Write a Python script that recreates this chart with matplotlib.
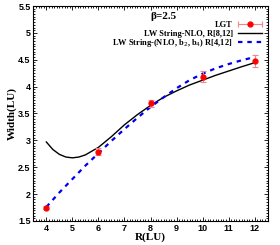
import numpy as np
import matplotlib
matplotlib.use("Agg")
import matplotlib.pyplot as plt
from matplotlib.lines import Line2D
from matplotlib.legend_handler import HandlerLine2D, HandlerTuple
from matplotlib.ticker import MultipleLocator

# lattice data
r_lgt = [4, 6, 8, 10, 12]
w_lgt = [1.75, 2.79, 3.69, 4.185, 4.48]
w_err = [0.03, 0.06, 0.06, 0.10, 0.115]

# LW string NLO fit, R in [8,12]
r_nlo = [4.0, 4.25, 4.5, 4.75, 5.0, 5.25, 5.5, 6.0, 6.5, 7.0, 7.5, 8.0,
         8.5, 9.0, 9.5, 10.0, 10.5, 11.0, 11.5, 12.0]
w_nlo = [2.97, 2.83, 2.74, 2.69, 2.675, 2.69, 2.73, 2.87, 3.07, 3.29, 3.48, 3.65,
         3.80, 3.92, 4.03, 4.12, 4.21, 4.29, 4.37, 4.445]

# LW string (NLO, b2, b4) fit, R in [4,12]
r_b = [4.0, 4.5, 5.0, 5.5, 6.0, 6.5, 7.0, 7.5, 8.0, 8.5, 9.0, 9.5, 10.0,
       10.5, 11.0, 11.5, 12.0]
w_b = [1.76, 2.03, 2.28, 2.53, 2.76, 2.99, 3.21, 3.42, 3.62, 3.80, 3.97, 4.12, 4.24,
       4.34, 4.42, 4.49, 4.55]

labels = ["LGT", "LW String-NLO, R[8,12]", "LW String-(NLO, b$_2$, b$_4$) R[4,12]"]

serif = "Liberation Serif"
sans = "Liberation Sans"
pink = "#f4868a"
blue = "#0000ee"
dash = (0, (2.0, 2.2))

fig = plt.figure(figsize=(2.8, 2.45), dpi=100)
ax = fig.add_axes([0.119, 0.098, 0.837, 0.8775])

ax.plot(r_nlo, w_nlo, color="black", lw=1.0)
ax.plot(r_b, w_b, color=blue, lw=1.6, ls=dash)
ax.errorbar(r_lgt, w_lgt, yerr=w_err, fmt="none", ecolor=pink, elinewidth=0.8,
            capsize=2.5, capthick=0.8, zorder=4)
ax.plot(r_lgt, w_lgt, "o", color="red", ms=3.5, zorder=5)

ax.set_xlim(3.5, 12.5)
ax.set_ylim(1.5, 5.5)
ax.xaxis.set_major_locator(MultipleLocator(1))
ax.xaxis.set_minor_locator(MultipleLocator(0.1))
ax.yaxis.set_minor_locator(MultipleLocator(0.05))
ax.set_yticks([1.5, 2, 2.5, 3, 3.5, 4, 4.5, 5, 5.5])
ax.set_yticklabels(["1.5", "2", "2.5", "3", "3.5", "4", "4.5", "5", "5.5"])
ax.tick_params(which="both", direction="in", top=True, right=True, width=0.6)
ax.tick_params(which="major", length=3, labelsize=6.5, pad=2)
ax.tick_params(which="minor", length=1.5)
for lab in ax.get_xticklabels() + ax.get_yticklabels():
    lab.set_family(sans)
    lab.set_fontweight("bold")
for s in ax.spines.values():
    s.set_linewidth(0.8)

ax.set_xlabel("R(LU)", family=serif, fontweight="bold", fontsize=8, labelpad=0)
ax.set_ylabel("Width(LU)", family=serif, fontweight="bold", fontsize=8, labelpad=1)
ax.text(0.555, 0.953, "β=2.5", transform=ax.transAxes, ha="center", va="center",
        family=serif, fontweight="bold", fontsize=8)

# legend, gnuplot style: text right aligned, sample on the right
err_h = Line2D([], [], color=pink, lw=0.8, marker="|", ms=4, mew=0.8)
dot_h = Line2D([], [], color="red", marker="o", ls="none", ms=3.5)
blk_h = Line2D([], [], color="black", lw=1.0)
blu_h = Line2D([], [], color=blue, lw=1.6, ls=dash)
handles = [(err_h, dot_h), blk_h, blu_h]
row_y = [0.913, 0.871, 0.829]
for h, lab, y in zip(handles, labels, row_y):
    leg = ax.legend([h], [lab],
                    handler_map={tuple: HandlerTuple(ndivide=1),
                                 dot_h: HandlerLine2D(numpoints=1)},
                    loc="center right", bbox_to_anchor=(0.985, y), frameon=False,
                    markerfirst=False, numpoints=2, handlelength=3.4, handletextpad=0.35,
                    borderaxespad=0.0, borderpad=0.0,
                    prop={"family": serif, "weight": "bold", "size": 6.0})
    ax.add_artist(leg)
ax.legend_ = None

fig.savefig("out.png", dpi=100)
